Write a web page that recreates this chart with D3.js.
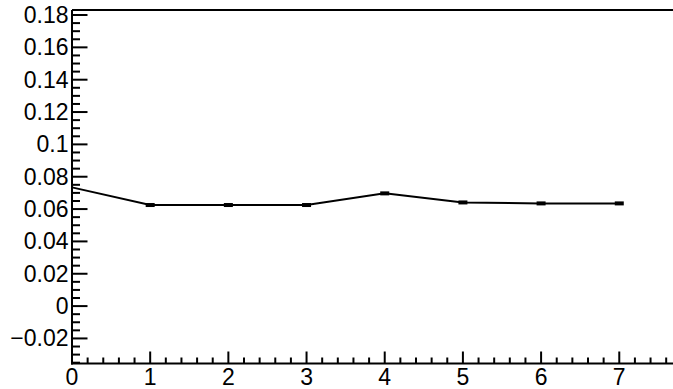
<!DOCTYPE html>
<html><head><meta charset="utf-8">
<script src="https://cdn.jsdelivr.net/npm/d3@7"></script>
<style>body{margin:0;background:#fff}svg{display:block}</style>
</head><body>
<svg id="c" width="673" height="389"></svg>
<script>
const xValues = [0, 1, 2, 3, 4, 5, 6, 7];
const yValues = [0.0734, 0.0625, 0.0625, 0.0625, 0.0697, 0.0641, 0.0635, 0.0635];
const xTickLabels = ["0","1","2","3","4","5","6","7"];
const yTickValues = [-0.02, 0, 0.02, 0.04, 0.06, 0.08, 0.1, 0.12, 0.14, 0.16, 0.18];
const yTickLabels = ["\u22120.02","0","0.02","0.04","0.06","0.08","0.1","0.12","0.14","0.16","0.18"];

const svg = d3.select("#c");
const x = d3.scaleLinear().domain([0, 7.7]).range([72, 674]);
const y = d3.scaleLinear().domain([-0.0355, 0.1831]).range([363.5, 10]);
const font = "'Liberation Sans', Arial, sans-serif";
const fs = 23;

// frame
svg.append("line").attr("x1",72).attr("x2",674).attr("y1",10).attr("y2",10).attr("stroke","#000").attr("stroke-width",2);
svg.append("line").attr("x1",72).attr("x2",72).attr("y1",10).attr("y2",364.5).attr("stroke","#000").attr("stroke-width",2);
svg.append("line").attr("x1",71).attr("x2",674).attr("y1",363.5).attr("y2",363.5).attr("stroke","#000").attr("stroke-width",2);

// y ticks
const yMinor = d3.range(-0.035, 0.1831, 0.005).map(v => Math.round(v*1000)/1000);
svg.append("g").selectAll("line").data(yMinor).join("line")
  .attr("x1",72).attr("x2",d => (Math.abs(Math.round(d*1000)%20) === 0) ? 87.5 : 80)
  .attr("y1",d=>y(d)).attr("y2",d=>y(d)).attr("stroke","#000").attr("stroke-width",2);
svg.append("g").selectAll("text").data(yTickValues).join("text")
  .attr("x",68.5).attr("y",d=>y(d)+8).attr("text-anchor","end")
  .attr("font-family",font).attr("font-size",fs).attr("fill","#000")
  .text((d,i)=>yTickLabels[i]);

// x ticks
const xMinor = d3.range(0, 7.71, 0.2).map(v => Math.round(v*10)/10);
svg.append("g").selectAll("line").data(xMinor).join("line")
  .attr("x1",d=>x(d)).attr("x2",d=>x(d))
  .attr("y1",363.5).attr("y2",d => (Math.abs(d - Math.round(d)) < 1e-6) ? 351.5 : 357.5)
  .attr("stroke","#000").attr("stroke-width",2);
svg.append("g").selectAll("text").data(xValues).join("text")
  .attr("x",d=>x(d)).attr("y",384.5).attr("text-anchor","middle")
  .attr("font-family",font).attr("font-size",fs).attr("fill","#000")
  .text((d,i)=>xTickLabels[i]);

// line
const pts = xValues.map((v,i)=>[v, yValues[i]]);
svg.append("path").datum(pts)
  .attr("d", d3.line().x(d=>x(d[0])).y(d=>y(d[1])))
  .attr("fill","none").attr("stroke","#000").attr("stroke-width",2);
svg.append("g").selectAll("rect").data(pts.slice(1)).join("rect")
  .attr("x",d=>x(d[0])-4.5).attr("y",d=>y(d[1])-2).attr("width",9).attr("height",4).attr("fill","#000");
</script>
</body></html>
